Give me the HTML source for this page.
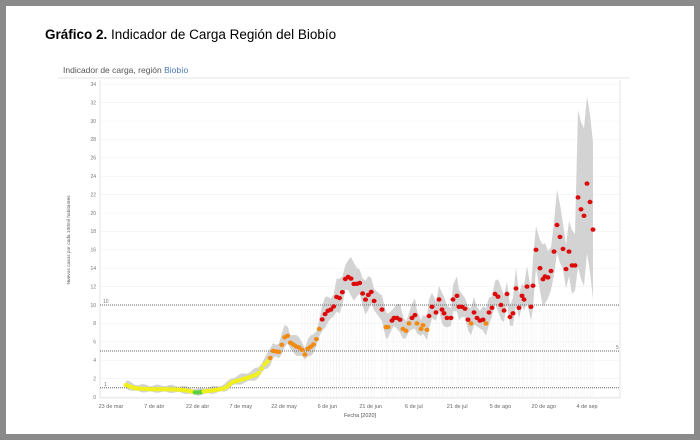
<!DOCTYPE html>
<html><head><meta charset="utf-8"><style>
body{margin:0;width:700px;height:440px;overflow:hidden;background:#fff;font-family:"Liberation Sans",sans-serif}
.frame{position:absolute;left:0;top:0;width:688px;height:428px;border:6px solid #8a8a8a;background:#fff}
</style></head><body>
<div class="frame"></div>
<svg id="s" width="700" height="440" style="position:absolute;left:0;top:0" xmlns="http://www.w3.org/2000/svg">
<text x="45" y="39" font-size="13.5" fill="#000"><tspan font-weight="bold">Gráfico 2.</tspan> Indicador de Carga Región del Biobío</text>
<text x="63" y="73" font-size="8.5" fill="#555">Indicador de carga, región <tspan fill="#4a78b5">Biobío</tspan></text>
<line x1="58" y1="78" x2="630" y2="78" stroke="#e4e4e4" stroke-width="1"/>
<g id="g"></g>
</svg>
<script>
const g=document.getElementById('g');let h='';
const Y=v=>397-v*9.2, X=d=>111+d*2.885;
for(let v=0;v<=34;v+=2){h+=`<line x1="100" x2="620" y1="${Y(v)}" y2="${Y(v)}" stroke="#f1f1f1" stroke-width="0.6"/>`;
h+=`<text x="96" y="${Y(v)+1.8}" font-size="5" fill="#777" text-anchor="end">${v}</text>`;}
h+=`<line x1="100" x2="100" y1="80" y2="398" stroke="#ddd" stroke-width="0.8"/>`;
h+=`<line x1="620" x2="620" y1="80" y2="398" stroke="#ddd" stroke-width="0.8"/>`;
h+=`<line x1="100" x2="620" y1="398" y2="398" stroke="#ddd" stroke-width="0.8"/>`;
const ek=[[126,1.3],[135,0.95],[150,0.85],[165,0.85],[180,0.8],[190,0.65],[195,0.5],[199,0.5],[204,0.6],[215,0.75],[225,0.95],[232,1.6],[245,2.0],[258,2.5],[263,3.3],[266,3.8],[269,3.9],[273,5.0],[280,4.9],[283,6.2],[287,6.9],[289,6.0],[292,5.8],[296,5.5],[301,5.3],[305,4.6],[308,5.3],[313,5.6],[317,6.4],[320,7.7],[322,8.4],[325,9.0],[329,9.5],[333,9.5],[336,10.9],[341,10.7],[346,13.2],[349,13.0],[352,12.8],[355,12.0],[358,12.5],[361,12.3],[364,10.3],[367,10.9],[371,11.5],[376,9.8]];
let pts=[];
for(let x=126;x<=376;x+=2.885){let i=0;while(i<ek.length-2&&ek[i+1][0]<x)i++;const[a,b]=[ek[i],ek[i+1]];const t=Math.min(1,Math.max(0,(x-a[0])/(b[0]-a[0])));pts.push([x,a[1]+(b[1]-a[1])*t]);}
const late=[[382,9.5],[386,7.6],[388,7.6],[392,8.3],[394,8.6],[397,8.6],[400,8.4],[403,7.4],[406,7.2],[409,8.0],[412,8.6],[415,8.9],[417,8.0],[421,7.4],[423,7.8],[427,7.3],[429,8.8],[432,9.8],[436,9.2],[439,10.6],[442,9.5],[444,9.1],[447,8.6],[451,8.6],[453,10.6],[457,11.0],[459,9.8],[462,9.8],[465,9.6],[468,8.4],[471,8.0],[474,9.2],[477,8.6],[480,8.3],[483,8.4],[486,8.0],[489,9.2],[492,9.7],[495,11.2],[498,10.9],[501,10.0],[504,9.4],[507,11.2],[510,8.7],[513,9.1],[516,11.8],[519,9.7],[522,11.0],[524,10.6],[527,12.0],[531,9.8],[533,12.1],[536,16.0],[540,14.0],[543,12.8],[545,13.1],[548,13.0],[551,13.7],[554,15.8],[557,18.7],[560,17.4],[563,16.1],[566,13.9],[569,15.8],[572,14.3],[575,14.3],[578,21.7],[581,20.4],[584,19.7],[587,23.2],[590,21.2],[593,18.2]];
pts=pts.concat(late);
for(const[x]of pts)if(x>300)h+=`<line x1="${x}" x2="${x}" y1="${Y(9.5)}" y2="397" stroke="#eeeeee" stroke-width="0.5"/>`;
function hw(x,v,i){if(x>=576)return 9.5;if(x>=533)return 3.2*(1+0.2*Math.sin(i*1.3));let w=0.3+0.13*v;return w*(1+0.25*Math.sin(i*1.3));}
let up='',dn='';
pts.forEach(([x,v],i)=>{up+=`${x.toFixed(1)},${Y(v+hw(x,v,i)).toFixed(1)} `;});
for(let i=pts.length-1;i>=0;i--){const[x,v]=pts[i];dn+=`${x.toFixed(1)},${Y(Math.max(0,v-hw(x,v,i)*0.8)).toFixed(1)} `;}
h+=`<polygon points="${up}${dn}" fill="#d3d3d3"/>`;
[[1,'1',104],[5,'5',616],[10,'10',103]].forEach(([v,t,x])=>{h+=`<line x1="100" x2="620" y1="${Y(v)}" y2="${Y(v)}" stroke="#666" stroke-width="1" stroke-dasharray="1,1"/>`;
h+=`<text x="${x}" y="${Y(v)-2}" font-size="5" fill="#777">${t}</text>`;});
pts.forEach(([x,v])=>{const c=v<0.56?'#5ad13c':v<3.95?'#f0f01e':v<8.1?'#f08a10':'#dd0a0a';
h+=`<ellipse cx="${x.toFixed(1)}" cy="${Y(v).toFixed(1)}" rx="2.5" ry="2.2" fill="${c}"/>`;});
const labs=['23 de mar','7 de abr','22 de abr','7 de may','22 de may','6 de jun','21 de jun','6 de jul','21 de jul','5 de ago','20 de ago','4 de sep'];
labs.forEach((t,i)=>h+=`<text x="${X(i*15)}" y="408" font-size="5.5" fill="#666" text-anchor="middle">${t}</text>`);
h+=`<text x="360" y="417" font-size="5.5" fill="#555" text-anchor="middle">Fecha [2020]</text>`;
h+=`<text transform="translate(70,240) rotate(-90)" font-size="4.8" fill="#555" text-anchor="middle">Nuevos casos por cada 100mil habitantes</text>`;
g.innerHTML=h;
</script>
</body></html>
